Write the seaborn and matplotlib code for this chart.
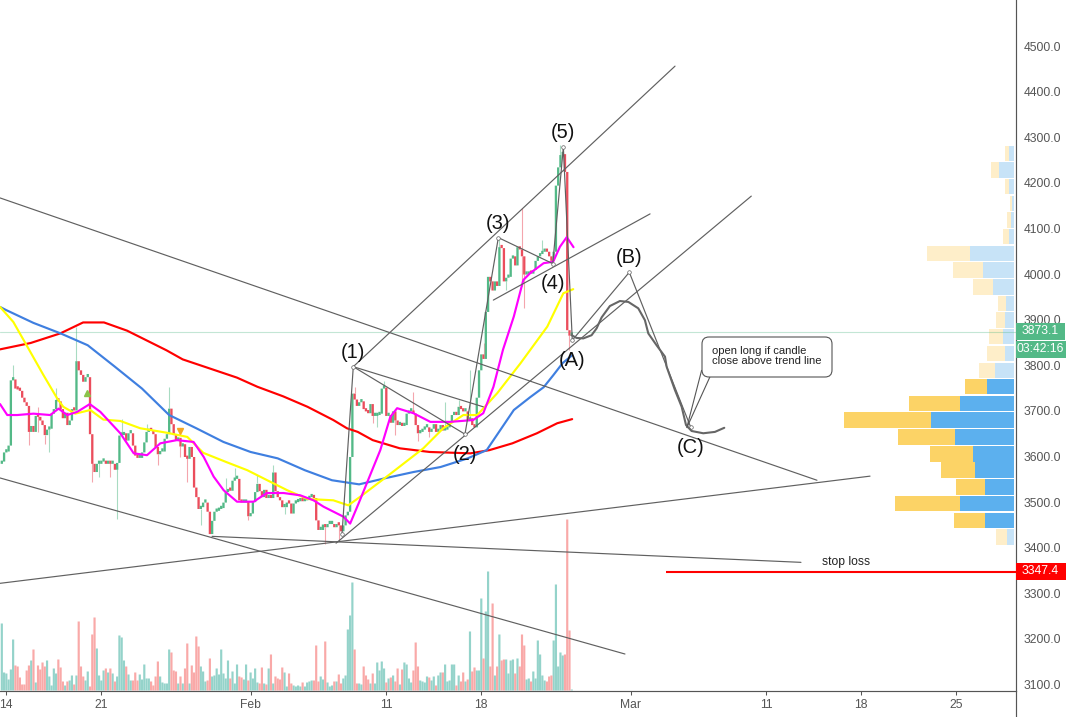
import matplotlib
matplotlib.use("Agg")
import matplotlib.pyplot as plt
from matplotlib.patches import FancyBboxPatch, Polygon, Rectangle
from matplotlib.transforms import Affine2D
import numpy as np
import pandas as pd
import seaborn as sns

# x unit is days since 14 Jan, candles are 4h
FIRST_CANDLE_DAY = -0.33

# closes[0] is only the open of the first candle
closes = [
    3585, 3590, 3610, 3612, 3625, 3768, 3770, 3750, 3748, 3745,
    3730, 3720, 3712, 3655, 3668, 3655, 3690, 3688, 3680, 3670,
    3648, 3660, 3662, 3695, 3705, 3725, 3722, 3705, 3685, 3697,
    3670, 3680, 3705, 3702, 3810, 3790, 3780, 3765, 3775, 3775,
    3650, 3585, 3567, 3585, 3585, 3590, 3590, 3585, 3588, 3585,
    3585, 3572, 3587, 3647, 3648, 3652, 3636, 3652, 3652, 3625,
    3603, 3598, 3598, 3610, 3632, 3655, 3660, 3657, 3650, 3622,
    3606, 3612, 3612, 3640, 3650, 3706, 3672, 3648, 3636, 3642,
    3623, 3628, 3600, 3596, 3622, 3600, 3533, 3512, 3486, 3490,
    3500, 3500, 3480, 3431, 3460, 3480, 3482, 3486, 3488, 3500,
    3523, 3530, 3526, 3548, 3552, 3552, 3505, 3500, 3500, 3502,
    3470, 3476, 3501, 3523, 3541, 3525, 3512, 3528, 3510, 3512,
    3510, 3566, 3525, 3512, 3505, 3490, 3490, 3500, 3498, 3476,
    3498, 3501, 3503, 3505, 3503, 3505, 3508, 3512, 3514, 3510,
    3461, 3440, 3440, 3452, 3446, 3453, 3453, 3453, 3446, 3453,
    3450, 3437, 3450, 3472, 3480, 3600, 3739, 3726, 3712, 3720,
    3722, 3705, 3700, 3696, 3716, 3690, 3690, 3692, 3695, 3750,
    3752, 3690, 3692, 3675, 3700, 3680, 3670, 3670, 3668, 3670,
    3695, 3700, 3700, 3695, 3670, 3652, 3655, 3660, 3665, 3665,
    3655, 3662, 3672, 3655, 3660, 3670, 3658, 3660, 3665, 3675,
    3692, 3695, 3692, 3710, 3705, 3700, 3700, 3680, 3685, 3670,
    3665, 3730, 3790, 3825, 3815, 3918, 3995, 3985, 3965, 3985,
    3975, 4060, 4058, 3985, 3993, 3995, 4035, 4040, 4020, 4060,
    4055, 4040, 4000, 4000, 4005, 4002, 4010, 4030, 4040, 4045,
    4050, 4055, 4050, 4040, 4030, 4050, 4195, 4235, 4262, 4264,
    4225, 3878, 3866, 3873,
]

# only the wicks that stick out visibly, indexed like closes
wick_high_idx = [6, 17, 25, 34, 40, 54, 65, 75, 100, 104, 114, 121, 157, 170, 183,
                 197, 203, 208, 214, 221, 231, 240, 248]
wick_high = [3800, 3709, 3750, 3885, 3775, 3683, 3672, 3753, 3552, 3574, 3559, 3581,
             3753, 3765, 3742, 3720, 3724, 3790, 3848, 4078, 4144, 4075, 4283]
wick_low_idx = [13, 17, 20, 22, 41, 44, 49, 52, 70, 80, 83, 89, 110, 126, 144, 150,
                165, 167, 175, 185, 190, 224, 231, 232, 252]
wick_low = [3625, 3654, 3628, 3610, 3545, 3555, 3555, 3464, 3581, 3599, 3545, 3450,
            3461, 3475, 3409, 3417, 3673, 3665, 3647, 3633, 3643, 3965, 3973, 3925, 3834]

volumes = [
    67, 18, 17, 11, 21, 51, 25, 24, 13, 6,
    6, 20, 25, 30, 41, 8, 25, 21, 28, 24,
    30, 14, 5, 22, 17, 31, 23, 9, 5, 9,
    10, 15, 6, 15, 69, 24, 14, 10, 19, 4,
    56, 73, 42, 15, 10, 20, 22, 18, 22, 17,
    9, 14, 55, 53, 30, 24, 16, 10, 10, 18,
    10, 16, 11, 26, 12, 12, 9, 5, 14, 29,
    14, 8, 7, 7, 41, 38, 20, 19, 7, 14,
    7, 22, 47, 7, 25, 18, 54, 44, 24, 19,
    9, 10, 32, 14, 15, 22, 16, 41, 17, 12,
    30, 12, 19, 7, 26, 14, 13, 11, 26, 10,
    18, 12, 22, 8, 7, 23, 7, 6, 22, 36,
    7, 14, 12, 11, 23, 18, 4, 17, 7, 5,
    4, 5, 4, 8, 4, 8, 9, 10, 10, 45,
    9, 14, 11, 49, 8, 4, 5, 9, 9, 16,
    7, 12, 15, 61, 75, 108, 41, 7, 7, 6,
    24, 15, 11, 7, 17, 7, 28, 20, 29, 22,
    8, 12, 13, 15, 9, 22, 6, 21, 28, 26,
    12, 8, 20, 48, 24, 10, 9, 8, 14, 13,
    10, 14, 5, 15, 18, 18, 26, 9, 10, 26,
    26, 5, 15, 9, 18, 9, 11, 59, 19, 23,
    20, 20, 92, 32, 79, 119, 24, 87, 15, 24,
    56, 30, 31, 31, 17, 30, 31, 17, 32, 24,
    56, 45, 11, 12, 9, 19, 12, 50, 36, 15,
    10, 9, 14, 15, 50, 106, 24, 38, 35, 36,
    171, 60, 1,
]

blue_days = [-0.46, 0, 2, 4, 6, 8, 10, 12, 14, 16, 18, 20, 22, 24, 26, 28, 30, 32, 34,
             35.4, 36.4, 37.4, 38.6, 39.6, 40.3, 41, 41.7]
blue_ma = [3928, 3921, 3893, 3870, 3844, 3797, 3749, 3691, 3662, 3632, 3610, 3596, 3570,
           3548, 3539, 3553, 3566, 3577, 3596, 3614, 3658, 3702, 3730, 3752, 3778, 3805, 3822]
red_days = [-0.46, 1.8, 3.98, 5.66, 7.2, 8.9, 11.8, 13, 15, 17, 18.5, 20.4, 22.2, 24.1,
            25.1, 25.9, 27, 29, 31.2, 34.2, 35.6, 37.3, 39.1, 40.6, 41.7]
red_ma = [3835, 3849, 3870, 3894, 3894, 3876, 3833, 3813, 3793, 3773, 3753, 3732, 3709,
          3680, 3662, 3654, 3636, 3618, 3610, 3607, 3614, 3629, 3651, 3673, 3682]
yellow_days = [-0.46, 0.52, 1.55, 2.73, 3.76, 4.2, 5.08, 6.19, 7.15, 8.4, 9.87, 11.86,
               13.34, 14.52, 16.29, 17.76, 19.23, 20.71, 22.18, 24.1, 25.2, 26.09, 28.3,
               30.73, 32.2, 33.68, 34.71, 36.18, 37.88, 39.87, 41.05, 41.78]
yellow_ma = [3928, 3895, 3841, 3779, 3727, 3709, 3694, 3702, 3681, 3678, 3662, 3652,
             3643, 3608, 3587, 3570, 3548, 3526, 3507, 3504, 3493, 3512, 3562,
             3618, 3662, 3691, 3691, 3739, 3804, 3885, 3958, 3967]
magenta_days = [-0.46, 0.07, 0.81, 2, 3.24, 3.85, 4.49, 5.23, 6.15, 6.93, 8.4, 9.39,
                10.37, 11.35, 12.57, 13.8, 14.55, 15.28, 16.02, 17, 18.23, 19.2, 20.43,
                21.66, 22.64, 23.38, 24.85, 25.34, 25.96, 27.56, 28.3, 28.8, 30, 31.25,
                32.7, 34.4, 35.15, 35.9, 36.6, 37.4, 38.1, 38.6, 39.6, 40.3, 40.8, 41.3, 41.8]
magenta_ma = [3715, 3691, 3691, 3694, 3691, 3705, 3691, 3698, 3715, 3698, 3651, 3607,
              3603, 3629, 3636, 3632, 3599, 3556, 3526, 3501, 3501, 3520, 3520,
              3515, 3504, 3490, 3468, 3453, 3497, 3614, 3687, 3706, 3695, 3676,
              3676, 3680, 3695, 3753, 3834, 3907, 3987, 4002, 4024, 4027, 4060, 4081, 4059]

# volume profile rows, top to bottom
vp_prices = [4265, 4228, 4192, 4155, 4119, 4082, 4045, 4009, 3972, 3936, 3899, 3863,
             3826, 3789, 3753, 3716, 3680, 3643, 3606, 3570, 3533, 3497, 3460, 3424]
vp_up = [5, 15, 5, 2, 3, 5, 44, 31, 21, 8, 9, 11, 9, 19, 27, 54, 83, 59, 41, 39, 29, 54, 29, 7]
vp_down = [4, 8, 4, 2, 4, 6, 43, 30, 20, 8, 9, 14, 18, 16, 22, 51, 87, 57, 43, 34, 29, 65, 31, 11]
vp_is_old = [True] * 14 + [False] * 9 + [True]

# wave count: start, (1) .. (5), (A), (B), (C)
wave_labels = ["", "(1)", "(2)", "(3)", "(4)", "(5)", "(A)", "(B)", "(C)"]
wave_days = [24.74, 25.57, 33.8, 36.26, 40.27, 41.05, 41.71, 45.91, 50.44]
wave_prices = [3430, 3797, 3649, 4080, 4023, 4278, 3855, 4004, 3664]
wave_label_up = [0, 1, 0, 1, 0, 1, 0, 1, 0]

# trend lines: (day, price, day, price)
trend_lines = [
    (25.57, 3797, 49.28, 4456),
    (25.57, 3797, 35.15, 3709),
    (35.89, 3943, 47.44, 4132),
    (24.3, 3410, 54.9, 4171),
    (-0.46, 4167, 59.74, 3548),
    (-0.46, 3553, 45.59, 3167),
    (-0.46, 3322, 63.65, 3557),
    (15.16, 3425, 58.56, 3368),
]

path_days = [41.66, 42.03, 42.52, 43.13, 43.5, 43.87, 44.48, 45.22, 45.84, 46.57, 47.06,
             47.31, 47.92, 48.54, 48.66, 49.27, 49.77, 50.09, 50.5, 51.36, 52.22, 52.91]
path_prices = [3866, 3860, 3859, 3866, 3881, 3905, 3930, 3941, 3939, 3925, 3899,
               3870, 3844, 3819, 3797, 3746, 3709, 3669, 3656, 3651, 3654, 3663]

last_price = 3873.1
stop_price = 3347.4
stop_start_day = 48.62

y_ticks = list(range(3100, 4600, 100))
x_ticks = [0, 7, 18, 28, 35, 46, 56, 63, 70]
x_labels = ["14", "21", "Feb", "11", "18", "Mar", "11", "18", "25"]

GREEN = "#53b987"
RED = "#eb4d5c"
TEXT = "#555555"
LINE = "#606060"
W, H = 1066, 717
AX_RIGHT, AX_BOTTOM = 1015.5, 690.5
XLIM = (-0.464, 74.37)
YLIM = (3087, 4601)
BAR_DAYS = 0.16

sns.set_theme(style="white")
plt.rcParams["font.family"] = ["Liberation Sans", "DejaVu Sans"]

fig = plt.figure(figsize=(W / 100, H / 100), dpi=100)
rect = [0, (H - AX_BOTTOM) / H, AX_RIGHT / W, AX_BOTTOM / H]
vol_ax = fig.add_axes(rect, zorder=0)
vp_ax = fig.add_axes(rect, zorder=1)
ax = fig.add_axes(rect, zorder=2)
ax.patch.set_visible(False)

closes_arr = np.array(closes, dtype=float)
opens = closes_arr[:-1]
shut = closes_arr[1:]
candle_days = FIRST_CANDLE_DAY + np.arange(len(shut)) / 6
is_up = shut >= opens

# volume first, at the back
vol = pd.DataFrame({"day": np.round(FIRST_CANDLE_DAY + np.arange(len(volumes)) / 6, 4),
                    "volume": volumes,
                    "dir": ["up" if u else "down" for u in is_up[:len(volumes)]]})
sns.barplot(data=vol, x="day", y="volume", hue="dir", dodge=False, native_scale=True,
            palette={"up": "#94d3ca", "down": "#f9a9a8"}, saturation=1,
            linewidth=0, legend=False, ax=vol_ax)
# seaborn's native width comes out too thin here, widen around the centre
for bar in vol_ax.patches:
    centre = bar.get_x() + bar.get_width() / 2
    bar.set_width(BAR_DAYS)
    bar.set_x(centre - BAR_DAYS / 2)
    bar.set_snap(False)
vol_ax.set_xlim(XLIM)
vol_ax.set_ylim(0, AX_BOTTOM)
vol_ax.axis("off")

# volume profile, stacked from the right axis
vp = pd.DataFrame({"price": vp_prices, "up": vp_up,
                   "total": np.array(vp_up) + np.array(vp_down),
                   "old": vp_is_old})
sns.barplot(data=vp, y="price", x="total", hue="old", dodge=False, native_scale=True,
            orient="y", palette={True: "#feeec9", False: "#fcd366"}, saturation=1,
            width=0.94, linewidth=0, legend=False, ax=vp_ax)
sns.barplot(data=vp, y="price", x="up", hue="old", dodge=False, native_scale=True,
            orient="y", palette={True: "#c7e3f7", False: "#5cb0ee"}, saturation=1,
            width=0.94, linewidth=0, legend=False, ax=vp_ax)
vp_ax.set_xlim(AX_RIGHT - 1.2, -1.2)
vp_ax.set_ylim(YLIM)
vp_ax.axis("off")

# last price line
ax.axhline(last_price, color=GREEN, alpha=0.35, lw=0.8, zorder=1)

# moving averages
for days, values, color in [(red_days, red_ma, "#ff0000"), (blue_days, blue_ma, "#3f7fe0"),
                            (yellow_days, yellow_ma, "#ffff00"),
                            (magenta_days, magenta_ma, "#ff00ff")]:
    sns.lineplot(x=days, y=values, color=color, lw=1.55, sort=False, estimator=None, ax=ax,
                 zorder=3, solid_joinstyle="round")

# candles, flat ones still get a visible body
colors = np.where(is_up, GREEN, RED)
idx_hi = np.array(wick_high_idx) - 1
idx_lo = np.array(wick_low_idx) - 1
ax.vlines(candle_days[idx_hi], np.maximum(opens, shut)[idx_hi], wick_high,
          colors=colors[idx_hi], alpha=0.5, lw=0.8, zorder=2)
ax.vlines(candle_days[idx_lo], wick_low, np.minimum(opens, shut)[idx_lo],
          colors=colors[idx_lo], alpha=0.5, lw=0.8, zorder=2)
bodies = ax.bar(candle_days, np.maximum(np.abs(shut - opens), 7) , bottom=np.minimum(opens, shut) - 1,
                width=0.17, color=colors, linewidth=0, zorder=2.5)
for bar in bodies:
    bar.set_snap(False)

# signal triangles on the moving averages
ax.plot([5.97], [3739], marker="^", ms=4.5, color="#8bc34a", ls="none", zorder=4)
ax.plot([12.8], [3657], marker="v", ms=4.5, color="#f5a623", ls="none", zorder=4)

# drawings
for d0, p0, d1, p1 in trend_lines:
    sns.lineplot(x=[d0, d1], y=[p0, p1], color=LINE, lw=0.85, ax=ax, zorder=5)
ax.plot(wave_days, wave_prices, color=LINE, lw=0.85, zorder=5, marker="o", ms=2.6,
        mfc="white", mec=LINE, mew=0.5)
sns.lineplot(x=path_days, y=path_prices, color="#666666", lw=1.5, sort=False, estimator=None,
             ax=ax, zorder=5)

for label, d, p, up in zip(wave_labels, wave_days, wave_prices, wave_label_up):
    if label:
        ax.annotate(label, (d, p), xytext=(0, 10.4 if up else -14.6), textcoords="offset points",
                    ha="center", va="center", fontsize=14.5, color="#111111", zorder=6)

ax.plot([stop_start_day, XLIM[1]], [stop_price, stop_price], color="#ff0000", lw=1.5, zorder=5,
        solid_capstyle="butt")

# callout and stop loss note, in pixels of the figure
to_fig = lambda x, y: (x / W, 1 - y / H)
fig.add_artist(Polygon([to_fig(701.7, 370), to_fig(686.7, 428), to_fig(710, 376.7)], closed=False,
                       fc="white", ec="#555555", lw=0.8, transform=fig.transFigure, zorder=7))
box = FancyBboxPatch((702 + 7, 337 + 7), 130 - 14, 40 - 14, boxstyle="round,pad=7", fc="white",
                     ec="#555555", lw=0.8, zorder=8)
box.set_transform(Affine2D().scale(1, -1).translate(0, H))
fig.add_artist(box)
fig.text(711.5 / W, 1 - 356 / H, "open long if candle\nclose above trend line", fontsize=8.1,
         color="#222222", ha="left", va="center", linespacing=0.95, zorder=9)
fig.text(846 / W, 1 - 562 / H, "stop loss", fontsize=8.7, color="#222222", ha="center", va="center",
         zorder=9)

# axes
ax.set_xlim(XLIM)
ax.set_ylim(YLIM)
ax.set_xticks(x_ticks)
ax.set_xticklabels(x_labels)
ax.set_yticks(y_ticks)
ax.set_yticklabels([f"{v:.1f}" for v in y_ticks])
ax.yaxis.tick_right()
ax.tick_params(axis="both", length=3.2, width=0.75, color=TEXT, labelcolor=TEXT, labelsize=8.7,
               pad=2.6, direction="out", bottom=True, right=True, left=False)
ax.set_xlabel("")
ax.set_ylabel("")
ax.grid(False)
sns.despine(ax=ax, left=True, top=True, right=False, bottom=False)
for side in ["right", "bottom"]:
    ax.spines[side].set_color(TEXT)
    ax.spines[side].set_linewidth(0.85)
fig.add_artist(plt.Line2D([AX_RIGHT / W, AX_RIGHT / W], [0, 1 - AX_BOTTOM / H], color=TEXT, lw=0.85))

# price tags on the scale
tags = [(323.3, 339.5, 1065, GREEN, f"{last_price:.1f}"),
        (340.7, 358, 1066, GREEN, "03:42:16"),
        (563, 579.7, 1066, "#ff0000", f"{stop_price:.1f}")]
for top, bottom, right, color, label in tags:
    fig.add_artist(Rectangle((AX_RIGHT / W, 1 - bottom / H), (right - AX_RIGHT) / W, (bottom - top) / H,
                             fc=color, ec="none", transform=fig.transFigure, zorder=9))
    fig.text((AX_RIGHT + 25) / W, 1 - (top + bottom) / 2 / H, label, color="white", fontsize=8.7,
             ha="center", va="center", zorder=10)

fig.savefig("out.png", dpi=100)
